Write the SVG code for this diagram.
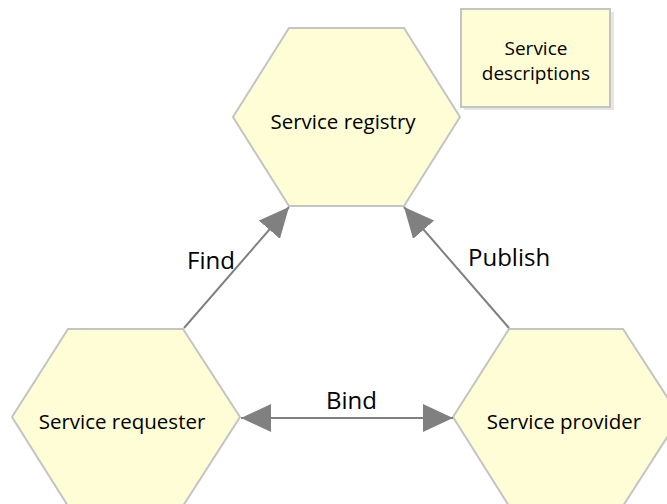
<svg xmlns="http://www.w3.org/2000/svg" width="667" height="504" viewBox="0 0 667 504">
  <style>
    .hex { fill: #fffdd6; stroke: #c4c4c4; stroke-width: 2; }
    .box { fill: #fffdd6; stroke: #c4c4c4; stroke-width: 2; }
    .lbl { font-family: "Open Sans", "Noto Sans", sans-serif; font-size: 20.5px; fill: #000; text-anchor: middle; }
    .small { font-size: 19px; }
    .edge { stroke: #808080; stroke-width: 2; fill: none; }
    .elbl { font-family: "Open Sans", "Noto Sans", sans-serif; font-size: 24px; fill: #000; }
  </style>
  <defs>
    <marker id="arrow" viewBox="0 0 30 28" refX="30" refY="14" markerWidth="30" markerHeight="28" markerUnits="userSpaceOnUse" orient="auto-start-reverse">
      <path d="M0,0 L30,14 L0,28 Z" fill="#808080"/>
    </marker>
  </defs>
  <rect width="667" height="504" fill="#ffffff"/>

  <g id="service-descriptions">
    <rect x="464" y="12" width="150" height="98" fill="#e6e6e6"/>
    <rect class="box" x="461" y="9" width="149" height="98"/>
    <text class="lbl small" x="536" y="55">Service</text>
    <text class="lbl small" x="536" y="80">descriptions</text>
  </g>

  <g id="service-registry">
    <polygon class="hex" points="289,28 404,28 460,117 404,206 289,206 233,117"/>
    <text class="lbl" x="343" y="129">Service registry</text>
  </g>

  <g id="service-requester">
    <polygon class="hex" points="68,329 183,329 240,417 183,506 68,506 12,417"/>
    <text class="lbl" x="122" y="429">Service requester</text>
  </g>

  <g id="service-provider">
    <polygon class="hex" points="509,329 623,329 680,417 623,506 509,506 453,417"/>
    <text class="lbl" x="564" y="429">Service provider</text>
  </g>

  <g id="connectors">
    <line class="edge" x1="184" y1="328" x2="289" y2="207" marker-end="url(#arrow)"/>
    <line class="edge" x1="509" y1="328" x2="404" y2="207" marker-end="url(#arrow)"/>
    <line class="edge" x1="241" y1="418" x2="453" y2="418" marker-start="url(#arrow)" marker-end="url(#arrow)"/>
    <text class="elbl" x="187" y="269">Find</text>
    <text class="elbl" x="468" y="266">Publish</text>
    <text class="elbl" x="326" y="409">Bind</text>
  </g>
</svg>
